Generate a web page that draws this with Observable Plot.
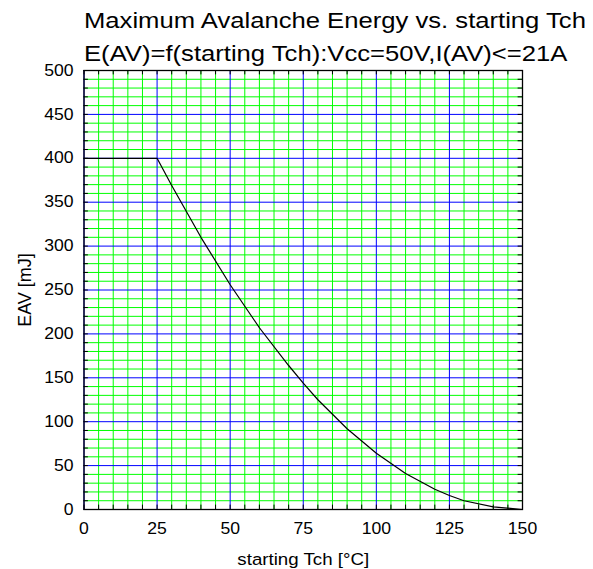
<!DOCTYPE html>
<html>
<head>
<meta charset="utf-8">
<script src="https://cdn.jsdelivr.net/npm/d3@7"></script>
<script src="https://cdn.jsdelivr.net/npm/@observablehq/plot@0.6"></script>
<style>
  html, body { margin: 0; padding: 0; background: #fff; }
  #wrap { position: relative; width: 593px; height: 569px; font-family: "Liberation Sans", Arial, sans-serif; overflow: hidden; }
  #title { position: absolute; left: 84px; top: 4px; font-size: 22px; line-height: 33px; color: #000; white-space: nowrap; transform: scaleX(1.165); transform-origin: 0 0; }
  #chart { position: absolute; left: 0; top: 0; }
</style>
</head>
<body>
<div id="wrap">
  <div id="chart"></div>
  <div id="title"></div>
</div>
<script>
const titleLines = ["Maximum Avalanche Energy vs. starting Tch", "E(AV)=f(starting Tch):Vcc=50V,I(AV)<=21A"];
const xLabel = "starting Tch [°C]";
const yLabel = "EAV [mJ]";
const xTicks = [0, 25, 50, 75, 100, 125, 150];
const yTicks = [0, 50, 100, 150, 200, 250, 300, 350, 400, 450, 500];
const xMinor = d3.range(0, 151, 5);
const yMinor = d3.range(0, 501, 10);
const tch = [0, 25, 30, 40, 50, 60, 70, 75, 80, 90, 100, 110, 120, 125, 130, 140, 150];
const eav = [400, 400, 369, 310, 256, 207, 164, 144, 125, 92, 64, 41, 23, 16, 10, 3, 0];
const curve = tch.map((t, i) => ({t, e: eav[i]}));

const xMinorOnly = xMinor.filter(v => v % 25 !== 0);
const yMinorOnly = yMinor.filter(v => v % 50 !== 0);

const titleEl = document.getElementById("title");
titleLines.forEach((line, i) => {
  if (i) titleEl.appendChild(document.createElement("br"));
  titleEl.appendChild(document.createTextNode(line));
});

const chart = Plot.plot({
  width: 593,
  height: 569,
  marginLeft: 83.5,
  marginRight: 71,
  marginTop: 70,
  marginBottom: 60,
  style: {fontFamily: "Liberation Sans, Arial, sans-serif", fontSize: "16px", color: "#000", background: "#fff"},
  x: {domain: [0, 150]},
  y: {domain: [0, 500]},
  marks: [
    Plot.ruleX(xMinorOnly, {stroke: "#00ff00", strokeWidth: 1}),
    Plot.ruleY(yMinorOnly, {stroke: "#00ff00", strokeWidth: 1}),
    Plot.ruleX(xTicks, {stroke: "#0000ff", strokeWidth: 1}),
    Plot.ruleY(yTicks, {stroke: "#0000ff", strokeWidth: 1}),
    // inner tick marks on all four sides
    Plot.ruleX(xMinor, {y1: 0, y2: 5, stroke: "#000"}),
    Plot.ruleX(xMinor, {y1: 495, y2: 500, stroke: "#000"}),
    Plot.ruleY(yMinor, {x1: 0, x2: 1.5, stroke: "#000"}),
    Plot.ruleY(yMinor, {x1: 148.5, x2: 150, stroke: "#000"}),
    Plot.line(curve, {x: "t", y: "e", stroke: "#000", strokeWidth: 1.2}),
    Plot.frame({stroke: "#000", strokeWidth: 1.3}),
    Plot.axisX({ticks: xTicks, tickSize: 0, tickPadding: 13, label: xLabel, labelAnchor: "center", labelArrow: "none", labelOffset: 55}),
    Plot.axisY({ticks: yTicks, tickSize: 0, tickPadding: 10.5, label: yLabel, labelAnchor: "center", labelArrow: "none", labelOffset: 66})
  ]
});
document.getElementById("chart").appendChild(chart);

// enlarge axis labels, and widen text glyphs slightly like the reference
chart.querySelectorAll("text").forEach(t => {
  const s = t.textContent;
  if (s === xLabel) t.style.fontSize = "17px";
  if (s === yLabel) t.style.fontSize = "18px";
});
chart.querySelectorAll("text").forEach(t => {
  const tr = t.getAttribute("transform") || "";
  if (tr.includes("rotate")) return;
  const b = t.getBBox();
  const anchor = getComputedStyle(t).textAnchor;
  const ax = anchor === "end" ? b.x + b.width : anchor === "middle" ? b.x + b.width / 2 : b.x;
  t.setAttribute("transform", `${tr} translate(${ax},0) scale(1.1,1) translate(${-ax},0)`);
});
</script>
</body>
</html>
